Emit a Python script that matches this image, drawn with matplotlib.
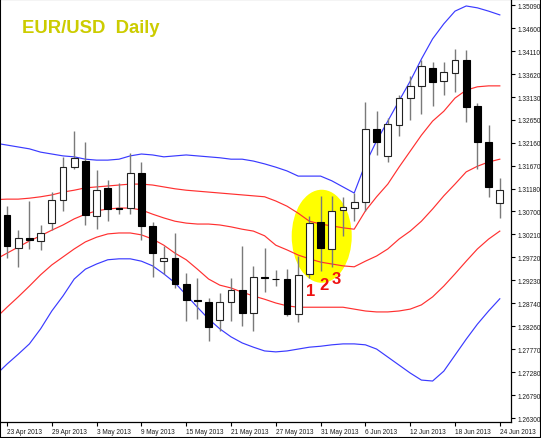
import matplotlib
matplotlib.use('Agg')
import matplotlib.pyplot as plt
from matplotlib.patches import Ellipse, Rectangle

# ---------------- data ----------------
tick_dates = ['23 Apr 2013', '29 Apr 2013', '3 May 2013', '9 May 2013', '15 May 2013',
              '21 May 2013', '27 May 2013', '31 May 2013', '6 Jun 2013', '12 Jun 2013',
              '18 Jun 2013', '24 Jun 2013']
tick_every = 4

opens = [1.3063, 1.2991, 1.3013, 1.3006, 1.3045, 1.3094, 1.3165, 1.3177, 1.3061, 1.3119,
         1.3077, 1.3077, 1.3151, 1.3038, 1.2965, 1.2971, 1.2915, 1.2881, 1.2877, 1.2839,
         1.2877, 1.2903, 1.2853, 1.2931, 1.2927, 1.2926, 1.2852, 1.2936, 1.3047, 1.2990,
         1.3072, 1.3077, 1.3089, 1.3245, 1.3187, 1.3254, 1.3311, 1.3336, 1.3374, 1.3347,
         1.3364, 1.3391, 1.3294, 1.3217, 1.3088]
highs = [1.3081, 1.3031, 1.3091, 1.3041, 1.3112, 1.3185, 1.3240, 1.3217, 1.3158, 1.3137,
         1.3130, 1.3194, 1.3174, 1.3048, 1.2997, 1.3025, 1.2939, 1.2928, 1.2886, 1.2896,
         1.2928, 1.2996, 1.2953, 1.2991, 1.2946, 1.2947, 1.2974, 1.3061, 1.3102, 1.3103,
         1.3100, 1.3108, 1.3303, 1.3284, 1.3268, 1.3318, 1.3359, 1.3391, 1.3387, 1.3387,
         1.3415, 1.3414, 1.3301, 1.3254, 1.3142]
lows = [1.2971, 1.2952, 1.2990, 1.2988, 1.3030, 1.3071, 1.3160, 1.3040, 1.3032, 1.3050,
        1.3065, 1.3064, 1.3008, 1.2931, 1.2937, 1.2907, 1.2837, 1.2841, 1.2795, 1.2816,
        1.2837, 1.2827, 1.2816, 1.2899, 1.2911, 1.2847, 1.2834, 1.2928, 1.2944, 1.2951,
        1.3018, 1.3050, 1.3071, 1.3190, 1.3176, 1.3230, 1.3265, 1.3277, 1.3294, 1.3318,
        1.3325, 1.3261, 1.3160, 1.3100, 1.3055]
closes = [1.2997, 1.3013, 1.3008, 1.3023, 1.3095, 1.3165, 1.3183, 1.3062, 1.3115, 1.3074,
          1.3074, 1.3151, 1.3038, 1.2981, 1.2971, 1.2915, 1.2881, 1.2879, 1.2823, 1.2877,
          1.2903, 1.2853, 1.2930, 1.2929, 1.2926, 1.2852, 1.2935, 1.3045, 1.2991, 1.3071,
          1.3079, 1.3089, 1.3245, 1.3217, 1.3256, 1.3311, 1.3336, 1.3380, 1.3346, 1.3366,
          1.3391, 1.3293, 1.3217, 1.3121, 1.3115]

# band values: first entry is the bar just left of the visible window (22 Apr)
band_start = -1
bb2_upper = [1.3215,
             1.3211, 1.3207, 1.3203, 1.3196, 1.3192, 1.3188, 1.3186, 1.3181, 1.3179, 1.3179,
             1.3181, 1.3188, 1.3192, 1.3190, 1.3186, 1.3188, 1.3190, 1.3188, 1.3186, 1.3184,
             1.3181, 1.3181, 1.3177, 1.3171, 1.3164, 1.3156, 1.3145, 1.3145, 1.3145, 1.3135,
             1.3122, 1.3109, 1.3171, 1.3220, 1.3262, 1.3305, 1.3347, 1.3394, 1.3437, 1.3469,
             1.3496, 1.3507, 1.3503, 1.3496, 1.3488]
bb1_upper = [1.3095,
             1.3096, 1.3096, 1.3098, 1.3101, 1.3105, 1.3111, 1.3115, 1.3120, 1.3122, 1.3124,
             1.3126, 1.3128, 1.3128, 1.3126, 1.3122, 1.3118, 1.3115, 1.3113, 1.3111, 1.3109,
             1.3107, 1.3105, 1.3103, 1.3101, 1.3092, 1.3081, 1.3066, 1.3049, 1.3043, 1.3039,
             1.3035, 1.3032, 1.3071, 1.3101, 1.3128, 1.3164, 1.3198, 1.3232, 1.3262, 1.3283,
             1.3311, 1.3328, 1.3335, 1.3337, 1.3337]
bb_middle = [1.2968,
             1.2981, 1.2994, 1.3007, 1.3018, 1.3030, 1.3041, 1.3054, 1.3064, 1.3071, 1.3075,
             1.3077, 1.3077, 1.3073, 1.3064, 1.3056, 1.3049, 1.3045, 1.3043, 1.3043, 1.3041,
             1.3037, 1.3032, 1.3028, 1.3018, 1.2998, 1.2988, 1.2977, 1.2969, 1.2962, 1.2958,
             1.2954, 1.2952, 1.2964, 1.2975, 1.2990, 1.3011, 1.3028, 1.3049, 1.3075, 1.3103,
             1.3128, 1.3154, 1.3166, 1.3175, 1.3181]
bb1_lower = [1.2843,
             1.2866, 1.2888, 1.2911, 1.2935, 1.2956, 1.2973, 1.2990, 1.3005, 1.3015, 1.3022,
             1.3024, 1.3024, 1.3020, 1.3011, 1.2998, 1.2981, 1.2967, 1.2947, 1.2926, 1.2913,
             1.2907, 1.2898, 1.2890, 1.2883, 1.2875, 1.2869, 1.2866, 1.2866, 1.2866, 1.2866,
             1.2866, 1.2862, 1.2858, 1.2856, 1.2856, 1.2858, 1.2862, 1.2871, 1.2888, 1.2911,
             1.2937, 1.2964, 1.2990, 1.3011, 1.3028]
bb2_lower = [1.2722,
             1.2745, 1.2766, 1.2788, 1.2820, 1.2858, 1.2890, 1.2926, 1.2947, 1.2958, 1.2967,
             1.2969, 1.2969, 1.2964, 1.2954, 1.2937, 1.2918, 1.2892, 1.2866, 1.2841, 1.2820,
             1.2803, 1.2790, 1.2781, 1.2773, 1.2771, 1.2773, 1.2777, 1.2781, 1.2783, 1.2786,
             1.2788, 1.2788, 1.2786, 1.2777, 1.2760, 1.2743, 1.2726, 1.2711, 1.2709, 1.2730,
             1.2764, 1.2798, 1.2830, 1.2858, 1.2884]

price_ticks = [1.35090, 1.34600, 1.34110, 1.33620, 1.33130, 1.32650, 1.32160, 1.31670,
               1.31180, 1.30700, 1.30210, 1.29720, 1.29230, 1.28740, 1.28260, 1.27770,
               1.27280, 1.26790, 1.26300]

title = 'EUR/USD  Daily'
marks = ['1', '2', '3']

# ---------------- figure ----------------
W, H = 541, 439
fig = plt.figure(figsize=(W / 100, H / 100), dpi=100)
fig.patch.set_facecolor('white')
ax = fig.add_axes([1 / W, 16 / H, 510 / W, 422 / H])
ax.set_facecolor('white')

n = len(opens)
xs = list(range(n))
bxs = list(range(band_start, band_start + len(bb_middle)))

# highlight ellipse around candles 1-2-3
ax.add_patch(Ellipse((28.1, 1.3017), 5.36, 0.0198, facecolor='#ffff00',
                     edgecolor='none', zorder=0.5))

# bands
ax.plot(bxs, bb2_upper, color='#3a3aff', lw=0.85, zorder=1)
ax.plot(bxs, bb2_lower, color='#3a3aff', lw=0.85, zorder=1)
for arr in (bb1_upper, bb_middle, bb1_lower):
    ax.plot(bxs, arr, color='#ff3030', lw=0.85, zorder=1)

# candles
body_w = 0.62
for i in range(n):
    o, h, l, c = opens[i], highs[i], lows[i], closes[i]
    ax.vlines(i, l, h, color='#7a7a7a', lw=1.0, zorder=2)
    bottom = min(o, c)
    height = max(abs(c - o), 0.00002)
    if c < o:
        ax.bar(i, height, bottom=bottom, width=body_w, color='black',
               edgecolor='black', lw=0.8, zorder=3)
    else:
        ax.bar(i, height, bottom=bottom, width=body_w, color='white',
               edgecolor='#222222', lw=0.8, zorder=3)

ax.set_xlim(-0.536, 45.0)
ax.set_ylim(1.26218, 1.35197)

# axes styling
for s in ('top', 'left'):
    ax.spines[s].set_visible(False)
for s in ('right', 'bottom'):
    ax.spines[s].set_color('black')
    ax.spines[s].set_linewidth(0.9)

ax.yaxis.tick_right()
ax.set_yticks(price_ticks)
ax.set_yticklabels([f'{v:.5f}' for v in price_ticks])
ax.set_xticks([k * tick_every for k in range(len(tick_dates))])
ax.set_xticklabels(tick_dates, ha='left')
ax.tick_params(axis='both', direction='out', length=3, width=0.8, color='black',
               labelsize=4.7, labelcolor='#1a1a1a', pad=1.5)
for lab in ax.get_xticklabels() + ax.get_yticklabels():
    lab.set_family('Liberation Sans')

# title
fig.text(21.7 / W, 1 - 33.3 / H, title, color='#cccc00', fontsize=13.3,
         fontweight='bold', family='Liberation Sans', ha='left', va='baseline')

# numbers 1 2 3
for txt, (px, py) in zip(marks, [(310.5, 291.0), (323.5, 285.5), (336.5, 279.5)]):
    fig.text(px / W, 1 - py / H, txt, color='#ee1111', fontsize=12, fontweight='bold',
             family='Liberation Sans', ha='center', va='center')

# outer frame
fig.patches.append(Rectangle((0, 0), 1, 1, transform=fig.transFigure, fill=False,
                             edgecolor='black', lw=1.5))

fig.savefig('out.png', dpi=100)
